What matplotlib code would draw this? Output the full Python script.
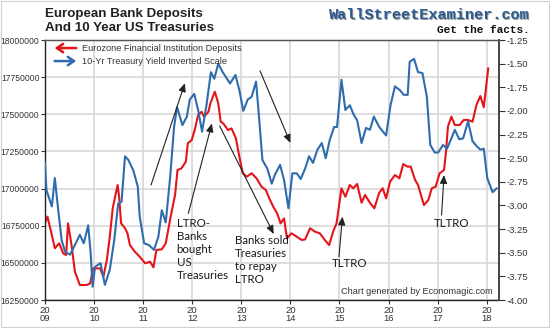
import matplotlib
matplotlib.use("Agg")
import matplotlib.pyplot as plt
from matplotlib.patches import Rectangle

# ---------------- data ----------------
dep_dates = [2009.00, 2009.05, 2009.14, 2009.20, 2009.29, 2009.37, 2009.43, 2009.47, 2009.54, 2009.61,
             2009.71, 2009.85, 2009.92, 2009.98, 2010.05, 2010.12, 2010.19, 2010.26, 2010.32, 2010.38,
             2010.45, 2010.48, 2010.51, 2010.55, 2010.63, 2010.68, 2010.73, 2010.83, 2010.93, 2011.04,
             2011.14, 2011.21, 2011.27, 2011.38, 2011.46, 2011.56, 2011.65, 2011.70, 2011.78, 2011.87,
             2011.91, 2011.99, 2012.05, 2012.12, 2012.19, 2012.24, 2012.33, 2012.37, 2012.46, 2012.53,
             2012.58, 2012.63, 2012.73, 2012.80, 2012.89, 2012.96, 2013.03, 2013.11, 2013.21, 2013.31,
             2013.41, 2013.50, 2013.57, 2013.65, 2013.73, 2013.80, 2013.87, 2013.93, 2014.02, 2014.13,
             2014.23, 2014.30, 2014.40, 2014.50, 2014.60, 2014.70, 2014.79, 2014.87, 2014.94, 2015.04,
             2015.12, 2015.21, 2015.28, 2015.36, 2015.45, 2015.52, 2015.62, 2015.71, 2015.81, 2015.88,
             2015.95, 2016.03, 2016.13, 2016.22, 2016.30, 2016.38, 2016.45, 2016.54, 2016.60, 2016.65,
             2016.72, 2016.81, 2016.88, 2016.96, 2017.04, 2017.13, 2017.17, 2017.21, 2017.28, 2017.35,
             2017.45, 2017.53, 2017.62, 2017.71, 2017.79, 2017.87, 2017.94, 2018.03]
deposits = [16766000, 16811000, 16687000, 16598000, 16632000, 16564000, 16553000, 16766000, 16620000, 16440000,
            16351000, 16351000, 16362000, 16463000, 16463000, 16463000, 16407000, 16519000, 16676000, 16867000,
            16979000, 17024000, 16945000, 16766000, 16733000, 16699000, 16620000, 16575000, 16541000, 16497000,
            16508000, 16470000, 16587000, 16591000, 16632000, 16811000, 16957000, 17125000, 17136000, 17181000,
            17305000, 17327000, 17394000, 17495000, 17517000, 17484000, 17517000, 17574000, 17652000, 17574000,
            17450000, 17439000, 17394000, 17405000, 17338000, 17214000, 17103000, 17080000, 17103000, 17069000,
            17013000, 16990000, 16934000, 16878000, 16833000, 16766000, 16799000, 16665000, 16699000, 16676000,
            16654000, 16658000, 16733000, 16710000, 16699000, 16654000, 16620000, 16710000, 16766000, 17002000,
            16945000, 17024000, 17002000, 17031000, 16905000, 16957000, 16905000, 16867000, 16972000, 17002000,
            16934000, 17046000, 17091000, 17069000, 17165000, 17148000, 17148000, 17058000, 17024000, 16968000,
            16889000, 16923000, 17002000, 17013000, 17103000, 17125000, 17248000, 17417000, 17484000, 17428000,
            17428000, 17462000, 17462000, 17450000, 17562000, 17623000, 17547000, 17809000]

yld_dates = [2009.00, 2009.03, 2009.14, 2009.20, 2009.27, 2009.34, 2009.41, 2009.51, 2009.58, 2009.71,
             2009.79, 2009.88, 2009.93, 2009.97, 2010.02, 2010.13, 2010.22, 2010.32, 2010.41, 2010.49,
             2010.56, 2010.63, 2010.70, 2010.80, 2010.89, 2010.93, 2011.02, 2011.12, 2011.22, 2011.31,
             2011.38, 2011.46, 2011.55, 2011.63, 2011.69, 2011.80, 2011.89, 2011.95, 2012.04, 2012.12,
             2012.20, 2012.29, 2012.38, 2012.45, 2012.53, 2012.62, 2012.77, 2012.88, 2012.96, 2013.04,
             2013.13, 2013.21, 2013.30, 2013.36, 2013.43, 2013.53, 2013.62, 2013.68, 2013.79, 2013.87,
             2013.96, 2014.04, 2014.13, 2014.21, 2014.30, 2014.38, 2014.46, 2014.55, 2014.64, 2014.72,
             2014.80, 2014.89, 2014.95, 2015.04, 2015.12, 2015.21, 2015.29, 2015.36, 2015.45, 2015.54,
             2015.62, 2015.70, 2015.81, 2015.95, 2016.04, 2016.13, 2016.23, 2016.31, 2016.39, 2016.43,
             2016.52, 2016.60, 2016.69, 2016.78, 2016.85, 2016.94, 2017.01, 2017.11, 2017.19, 2017.28,
             2017.35, 2017.44, 2017.52, 2017.62, 2017.71, 2017.79, 2017.87, 2017.94, 2018.01, 2018.12,
             2018.20]
yield_inv = [-2.55, -2.84, -3.01, -2.71, -3.05, -3.37, -3.49, -3.52, -3.45, -3.31,
             -3.40, -3.21, -3.50, -3.86, -3.65, -3.61, -3.84, -3.68, -3.37, -2.98,
             -2.96, -2.48, -2.52, -2.63, -2.80, -3.12, -3.40, -3.42, -3.47, -3.33,
             -3.05, -3.18, -2.70, -2.17, -1.96, -2.15, -2.06, -1.88, -1.82, -1.99,
             -2.22, -1.94, -1.59, -1.66, -1.50, -1.59, -1.71, -1.62, -1.78, -2.00,
             -1.88, -1.85, -1.69, -2.06, -2.52, -2.61, -2.77, -2.68, -2.57, -2.73,
             -3.03, -2.66, -2.66, -2.72, -2.61, -2.48, -2.55, -2.41, -2.34, -2.50,
             -2.31, -2.17, -2.17, -1.67, -1.99, -1.94, -2.04, -2.10, -2.34, -2.18,
             -2.20, -2.06, -2.17, -2.26, -1.94, -1.74, -1.78, -1.83, -1.83, -1.48,
             -1.45, -1.59, -1.60, -1.85, -2.36, -2.44, -2.44, -2.36, -2.40, -2.29,
             -2.20, -2.30, -2.29, -2.11, -2.32, -2.37, -2.41, -2.40, -2.71, -2.86,
             -2.82]

year_ticks = [2009, 2010, 2011, 2012, 2013, 2014, 2015, 2016, 2017, 2018]
year_labels = ["20\n09", "20\n10", "20\n11", "20\n12", "20\n13", "20\n14", "20\n15", "20\n16", "20\n17", "20\n18"]
left_ticks = [16250000, 16500000, 16750000, 17000000, 17250000, 17500000, 17750000, 18000000]
right_ticks = [-4.00, -3.75, -3.50, -3.25, -3.00, -2.75, -2.50, -2.25, -2.00, -1.75, -1.50, -1.25]

series_labels = ["Eurozone Financial Institution Deposits", "10-Yr Treasury Yield Inverted Scale"]

# annotation arrows: (tail_x, tail_y, head_x, head_y) in left-axis data units
arrows = [
    (2011.16, 17024000, 2011.85, 17709000),
    (2011.92, 16833000, 2012.40, 17438000),
    (2012.56, 17421000, 2013.66, 16694000),
    (2013.38, 17793000, 2014.00, 17307000),
    (2014.99, 16541000, 2015.06, 16811000),
    (2017.08, 16822000, 2017.13, 17091000),
]
notes = [
    ("LTRO-\nBanks\nbought\nUS\nTreasuries", 2011.68, 16800000, "left", "top"),
    ("Banks sold\nTreasuries\nto repay\nLTRO", 2012.87, 16690000, "left", "top"),
    ("TLTRO", 2015.21, 16499000, "center", "center"),
    ("TLTRO", 2017.28, 16768000, "center", "center"),
]

# ---------------- style ----------------
RED = "#e5141b"
BLUE = "#2f6cae"
GRID = "#d8d8d8"
TXT = "#333333"

W, H = 550, 328
fig = plt.figure(figsize=(W / 100, H / 100), dpi=100)
fig.patch.set_facecolor("white")

L, R, T, B = 45, 499, 40, 300
ax = fig.add_axes([L / W, 1 - B / H, (R - L) / W, (B - T) / H])
ax2 = ax.twinx()

ax.plot(dep_dates, deposits, color=RED, lw=1.5, solid_joinstyle="round")
ax2.plot(yld_dates, yield_inv, color=BLUE, lw=1.5, solid_joinstyle="round")

ax.set_xlim(2009.0, 2018.25)
ax.set_ylim(16250000, 18000000)
ax2.set_ylim(-4.0, -1.25)

ax.set_xticks(year_ticks)
ax.set_xticklabels(year_labels, fontsize=6.8, color=TXT, linespacing=0.95,
                   family="Liberation Sans")
ax.set_yticks(left_ticks)
ax.set_yticklabels([str(v) for v in left_ticks], fontsize=6.2, color=TXT,
                   family="Liberation Sans")
ax2.set_yticks(right_ticks)
ax2.set_yticklabels(["%.2f" % v for v in right_ticks], fontsize=6.8, color=TXT,
                    family="Liberation Sans")

ax.tick_params(axis="both", direction="out", length=3, width=0.8, color="#333333", pad=1.0)
ax.tick_params(axis="x", pad=1)
ax2.tick_params(axis="y", direction="out", length=4, width=0.8, color="#333333", pad=1.5)

ax.grid(True, color=GRID, lw=1.2)
ax.set_axisbelow(True)

for sp in ["left", "bottom"]:
    ax.spines[sp].set_linestyle((0, (2, 1)))
    ax.spines[sp].set_color("#222222")
    ax.spines[sp].set_linewidth(1.0)
for a in (ax, ax2):
    a.spines["top"].set_color("#555555")
    a.spines["top"].set_linewidth(0.9)
    a.spines["right"].set_color("#444444")
    a.spines["right"].set_linewidth(1.2)
ax2.spines["left"].set_visible(False)
ax2.spines["bottom"].set_visible(False)

# legend drawn as arrows + text
leg_y = [0.969, 0.919]
ax2.annotate("", xy=(0.015, leg_y[0]), xytext=(0.075, leg_y[0]), xycoords="axes fraction",
             arrowprops=dict(arrowstyle="->,head_length=0.45,head_width=0.3", color=RED, lw=1.8))
ax2.annotate("", xy=(0.075, leg_y[1]), xytext=(0.015, leg_y[1]), xycoords="axes fraction",
             arrowprops=dict(arrowstyle="->,head_length=0.45,head_width=0.3", color=BLUE, lw=1.8))
for lab, yy in zip(series_labels, leg_y):
    ax2.text(0.082, yy, lab, transform=ax2.transAxes, fontsize=6.6, color=TXT,
             va="center", ha="left", family="Liberation Sans")

# annotations
for (x0, y0, x1, y1) in arrows:
    ax2.annotate("", xy=(x1, y1), xytext=(x0, y0), xycoords=ax.transData, textcoords=ax.transData,
                 arrowprops=dict(arrowstyle="-|>,head_length=0.5,head_width=0.22",
                                 color="#222222", lw=0.8, shrinkA=0, shrinkB=0))
for (s, x, y, ha, va) in notes:
    ax2.text(x, y, s, transform=ax.transData, fontsize=8.3, color="#1a1a1a", ha=ha, va=va,
             linespacing=1.22, family="Lato")

ax2.text(0.987, 0.031, "Chart generated by Economagic.com", transform=ax2.transAxes,
         fontsize=6.6, color=TXT, ha="right", va="center", family="Liberation Sans")

# titles
fig.text(L / W, 1 - 14.5 / H, "European Bank Deposits", fontsize=9.6, fontweight="bold",
         color="#222222", ha="left", va="center", family="Liberation Sans")
fig.text(L / W, 1 - 28 / H, "And 10 Year US Treasuries", fontsize=9.6, fontweight="bold",
         color="#222222", ha="left", va="center", family="Liberation Sans")

# watermark
fig.text(531 / W, 1 - 15.5 / H, "WallStreetExaminer.com", fontsize=11, fontweight="bold",
         color="#9a9a9a", ha="right", va="center", family="Liberation Mono")
fig.text(530 / W, 1 - 15 / H, "WallStreetExaminer.com", fontsize=11, fontweight="bold",
         color="#2b5a8e", ha="right", va="center", family="Liberation Mono")
fig.text(530 / W, 1 - 30 / H, "Get the facts.", fontsize=8, fontweight="bold",
         color="#111111", ha="right", va="center", family="Liberation Mono")

fig.patches.append(Rectangle((0.002, 0.003), 0.996, 0.994, transform=fig.transFigure,
                             fill=False, edgecolor="#d0d0d0", lw=0.8))

fig.savefig("out.png", dpi=100)
